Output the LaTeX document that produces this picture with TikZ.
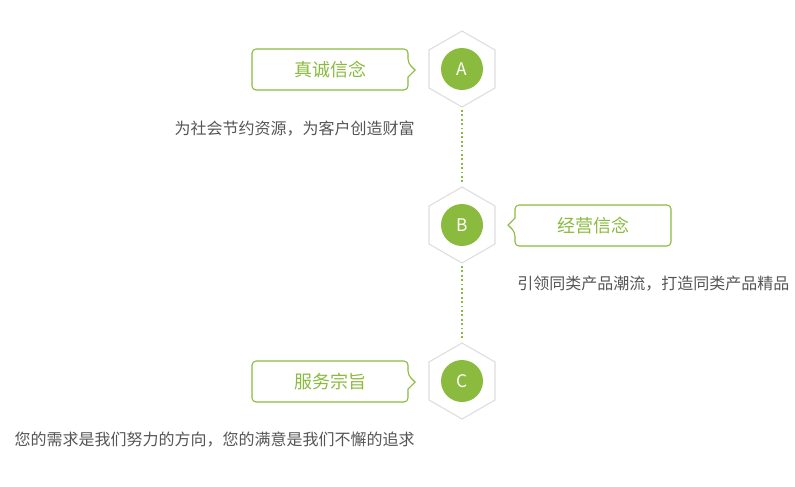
\documentclass[tikz,border=0pt]{standalone}
\usepackage{fontspec}
\newfontfamily\cjk{Noto Sans CJK SC}
\definecolor{gr}{HTML}{8ABB3E}
\definecolor{tx}{HTML}{555555}
\definecolor{hx}{HTML}{DDDDDD}
\begin{document}
\begin{tikzpicture}[x=0.75pt,y=-0.75pt,
  circ/.style={circle,fill=gr,minimum size=31.5pt,inner sep=0pt,text=white,font=\cjk\fontsize{13}{13}\selectfont},
  ttl/.style={text=gr,font=\cjk\fontsize{13.5}{13.5}\selectfont},
  desc/.style={text=tx,font=\cjk\fontsize{12}{12}\selectfont,inner sep=0pt},
  hexl/.style={draw=hx,line width=0.8pt},
  cal/.style={draw=gr,line width=0.8pt,fill=white},
  dot/.style={draw=gr,line width=1.3pt,dotted}]
\useasboundingbox (0,0) rectangle (795,486);
\foreach \n/\cy in {A/69,B/225,C/381}{
  \draw[hexl] (462,\cy-38) -- (495,\cy-19) -- (495,\cy+19) -- (462,\cy+38) -- (429,\cy+19) -- (429,\cy-19) -- cycle;
  \node[circ] (\n) at (462,\cy) {\n};
  \coordinate (\n t) at (462,\cy-41);
  \coordinate (\n b) at (462,\cy+41);
}
\draw[dot] (Ab) -- (Bt);
\draw[dot] (Bb) -- (Ct);
% callouts
\draw[cal,rounded corners=3pt] (252,49) -- (408,49) -- (408,63) [sharp corners] -- (415,70) -- (408,77) [rounded corners=3pt] -- (408,90) -- (252,90) -- cycle;
\node[ttl] (ta) at (330,70) {真诚信念};
\draw[cal,rounded corners=3pt] (671,205) -- (671,246) -- (515,246) -- (515,232) [sharp corners] -- (508,225) -- (515,218) [rounded corners=3pt] -- (515,205) -- cycle;
\node[ttl] (tb) at (593,226) {经营信念};
\draw[cal,rounded corners=3pt] (252,361) -- (408,361) -- (408,375) [sharp corners] -- (415,382) -- (408,389) [rounded corners=3pt] -- (408,402) -- (252,402) -- cycle;
\node[ttl] (tc) at (330,382) {服务宗旨};
\node[desc,anchor=east] (da) at (415,129) {为社会节约资源，为客户创造财富};
\node[desc,anchor=west] (db) at (517,284) {引领同类产品潮流，打造同类产品精品};
\node[desc,anchor=east] (dc) at (415,440) {您的需求是我们努力的方向，您的满意是我们不懈的追求};
\end{tikzpicture}
\end{document}
